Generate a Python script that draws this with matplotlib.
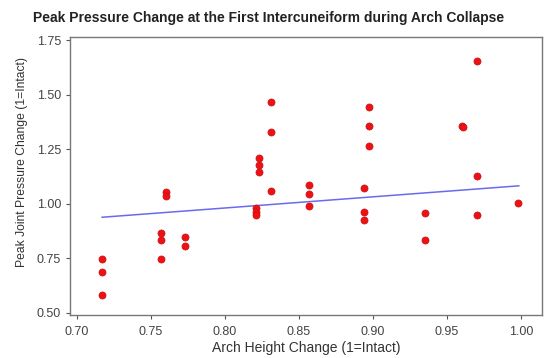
import numpy as np
import matplotlib
matplotlib.use("Agg")
import matplotlib.pyplot as plt
import matplotlib.ticker as ticker

plt.rcParams['font.family'] = ['Liberation Sans', 'DejaVu Sans']

# Arch height change (x) and peak joint pressure change (y)
arch_height = [0.717, 0.717, 0.717,
               0.757, 0.757, 0.757,
               0.760, 0.760,
               0.773, 0.773,
               0.821, 0.821, 0.821,
               0.823, 0.823, 0.823,
               0.831, 0.831, 0.831,
               0.857, 0.857, 0.857,
               0.894, 0.894, 0.894,
               0.897, 0.897, 0.897,
               0.935, 0.935,
               0.960, 0.961,
               0.970, 0.970, 0.970,
               0.998]
peak_pressure = [0.746, 0.689, 0.582,
                 0.868, 0.833, 0.746,
                 1.053, 1.037,
                 0.847, 0.808,
                 0.979, 0.964, 0.949,
                 1.208, 1.178, 1.147,
                 1.467, 1.330, 1.060,
                 1.085, 1.046, 0.990,
                 1.071, 0.964, 0.926,
                 1.443, 1.356, 1.266,
                 0.956, 0.833,
                 1.356, 1.350,
                 1.652, 1.129, 0.947,
                 1.002]

x_ticks = [0.70, 0.75, 0.80, 0.85, 0.90, 0.95, 1.00]
y_ticks = [0.50, 0.75, 1.00, 1.25, 1.50, 1.75]

# regression line endpoints
fit_x = [0.717, 0.9985]
fit_y = [0.938, 1.082]

fig = plt.figure(figsize=(5.5, 3.58), dpi=100)
ax = fig.add_axes([0.1273, 0.1201, 0.8582, 0.7765])

ax.scatter(arch_height, peak_pressure, s=26, color='#ee1111', edgecolors='#c8101a',
           linewidths=0.5, zorder=3)
ax.plot(fit_x, fit_y, color='#6a6af0', linewidth=1.1, zorder=2)

ax.set_xlim(0.6953, 1.0142)
ax.set_ylim(0.49, 1.764)
ax.xaxis.set_major_locator(ticker.FixedLocator(x_ticks))
ax.yaxis.set_major_locator(ticker.FixedLocator(y_ticks))
ax.xaxis.set_major_formatter(ticker.FormatStrFormatter('%.2f'))
ax.yaxis.set_major_formatter(ticker.FormatStrFormatter('%.2f'))

grey = '#555555'
for side in ax.spines.values():
    side.set_color('#777777')
    side.set_linewidth(1.0)
ax.tick_params(axis='both', colors=grey, labelcolor='#444444', labelsize=9,
               length=3, width=0.8, direction='out')
ax.tick_params(axis='x', pad=5)

ax.set_xlabel("Arch Height Change (1=Intact)", fontsize=10, color='#333333', labelpad=2)
ax.set_ylabel("Peak Joint Pressure Change (1=Intact)", fontsize=8.7, color='#333333')
ax.yaxis.set_label_coords(-0.089, 0.552)
fig.suptitle("Peak Pressure Change at the First Intercuneiform during Arch Collapse",
             fontsize=10, fontweight='bold', color='#222222', x=0.489, y=0.97)

fig.savefig("out.png", dpi=100)
